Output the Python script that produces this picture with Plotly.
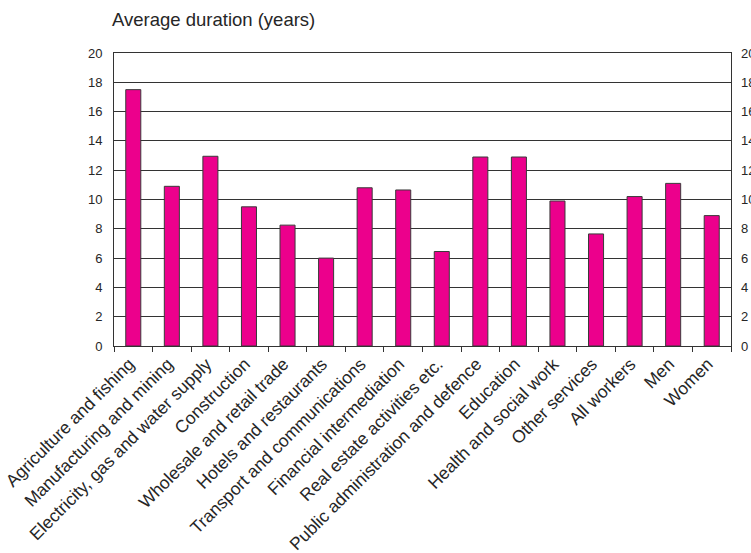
import plotly.graph_objects as go

categories = [
    "Agriculture and fishing",
    "Manufacturing and mining",
    "Electricity, gas and water supply",
    "Construction",
    "Wholesale and retail trade",
    "Hotels and restaurants",
    "Transport and communications",
    "Financial intermediation",
    "Real estate activities etc.",
    "Public administration and defence",
    "Education",
    "Health and social work",
    "Other services",
    "All workers",
    "Men",
    "Women",
]
durations = [17.5, 10.9, 12.95, 9.5, 8.25, 6.0, 10.8, 10.65, 6.45, 12.9, 12.9, 9.9, 7.65, 10.2, 11.1, 8.9]
y_ticks = [0, 2, 4, 6, 8, 10, 12, 14, 16, 18, 20]

FONT = "Liberation Sans, Arial, sans-serif"
TXT = "#262626"

fig = go.Figure()
fig.add_trace(go.Bar(
    x=categories,
    y=durations,
    marker=dict(color="#EC008C", line=dict(color="#3a3a3a", width=1)),
    showlegend=False,
    hoverinfo="x+y",
))
# invisible trace so that the right-hand axis is drawn
fig.add_trace(go.Scatter(
    x=categories,
    y=durations,
    yaxis="y2",
    mode="none",
    showlegend=False,
    hoverinfo="skip",
))

fig.update_layout(
    width=751,
    height=553,
    margin=dict(l=114, r=20, t=53, b=207, autoexpand=False),
    paper_bgcolor="white",
    plot_bgcolor="white",
    bargap=0.61,
    font=dict(family=FONT, color=TXT),
    title=dict(
        text="Average duration (years)",
        x=112 / 751,
        xref="container",
        xanchor="left",
        y=1 - 20 / 553,
        yref="container",
        yanchor="middle",
        font=dict(size=18.5, family=FONT, color=TXT),
    ),
    xaxis=dict(
        type="category",
        tickangle=-45,
        tickfont=dict(size=17.5, family=FONT, color=TXT),
        ticklabelshift=-4,
        showline=True,
        linecolor="#333333",
        linewidth=1,
        mirror=True,
        ticks="outside",
        tickson="boundaries",
        ticklen=5,
        tickcolor="#333333",
        showgrid=False,
    ),
    yaxis=dict(
        range=[0, 20],
        tickvals=y_ticks,
        tickfont=dict(size=13, family=FONT, color=TXT),
        showgrid=True,
        gridcolor="#333333",
        gridwidth=1,
        showline=True,
        linecolor="#333333",
        linewidth=1,
        mirror=True,
        ticks="",
        ticklabelstandoff=8,
        zeroline=False,
        fixedrange=True,
    ),
    yaxis2=dict(
        range=[0, 20],
        tickvals=y_ticks,
        overlaying="y",
        side="right",
        tickfont=dict(size=13, family=FONT, color=TXT),
        showgrid=False,
        showline=False,
        ticks="",
        ticklabelstandoff=9,
        zeroline=False,
        fixedrange=True,
    ),
)

fig.write_html(
    "out.html",
    config={"displayModeBar": False},
    post_script="document.body.style.margin='0';document.body.style.overflow='hidden';",
)
